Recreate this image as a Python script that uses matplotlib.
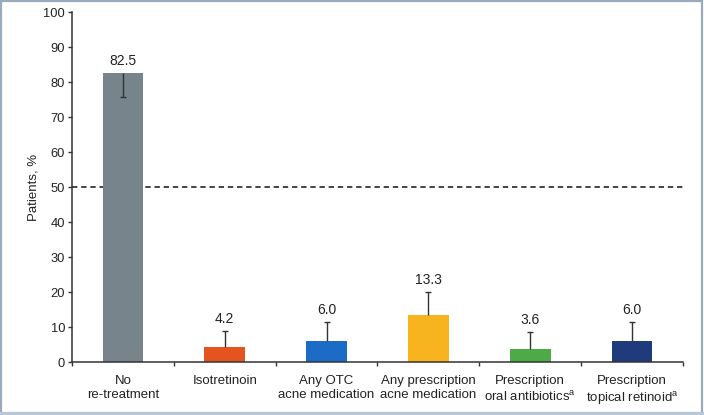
import matplotlib
matplotlib.use("Agg")
import matplotlib.pyplot as plt
from matplotlib.patches import Rectangle

plt.rcParams['font.family'] = ['Liberation Sans', 'DejaVu Sans']
plt.rcParams['mathtext.fontset'] = 'custom'
plt.rcParams['mathtext.rm'] = 'Liberation Sans'

categories = ["No\nre-treatment", "Isotretinoin", "Any OTC\nacne medication",
              "Any prescription\nacne medication",
              "Prescription\noral antibiotics$^\\mathrm{a}$",
              "Prescription\ntopical retinoid$^\\mathrm{a}$"]
values = [82.5, 4.2, 6.0, 13.3, 3.6, 6.0]
err_lower = [6.8, 0, 0, 0, 0, 0]
err_upper = [0, 4.7, 5.5, 6.8, 5.0, 5.5]
value_labels = ["82.5", "4.2", "6.0", "13.3", "3.6", "6.0"]
colors = ["#77848b", "#e5531f", "#1c6bc7", "#f8b41e", "#4cab47", "#1f3b7b"]
yticks = [0, 10, 20, 30, 40, 50, 60, 70, 80, 90, 100]
threshold = 50

fig = plt.figure(figsize=(7.04, 4.15), dpi=100)
ax = fig.add_axes([0.1023, 0.1277, 0.8677, 0.8433])

x = list(range(len(categories)))
ax.bar(x, values, width=0.4, color=colors, zorder=2)

# one-sided error bars (single cap at the far end)
lo = [v - e for v, e in zip(values, err_lower)]
hi = [v + e for v, e in zip(values, err_upper)]
ax.vlines(x, lo, hi, color='#333333', linewidth=1.0, zorder=3)
cap_y = [v - el if el > 0 else v + eu for v, el, eu in zip(values, err_lower, err_upper)]
ax.plot(x, cap_y, linestyle='none', marker='_', markersize=4.5,
        markeredgewidth=1.0, color='#333333', zorder=3)

for xi, v, up, lab in zip(x, values, err_upper, value_labels):
    ax.annotate(lab, (xi, v + up), xytext=(0, 3.5), textcoords='offset points',
                ha='center', va='bottom', fontsize=10, color='#222222')

ax.axhline(threshold, color='#111111', linestyle=(0, (3.5, 2.5)), linewidth=1.1, zorder=1)

ax.set_xlim(-0.5, len(categories) - 0.5)
ax.set_ylim(0, 100)
ax.set_yticks(yticks)
ax.set_yticklabels([str(t) for t in yticks], fontsize=9.3, color='#222222')
ax.set_xticks([i + 0.5 for i in range(-1, len(categories))], minor=False)
ax.set_xticklabels([])
ax.set_xticks(x, minor=True)
ax.set_xticklabels(categories, minor=True, fontsize=9.5, color='#222222', linespacing=1.3)
ax.tick_params(axis='x', which='minor', length=0, pad=9)
ax.tick_params(axis='x', which='major', length=3, width=1, color='#333333', direction='out')
ax.tick_params(axis='y', length=3, width=1, color='#333333', pad=2)
ax.set_ylabel("Patients, %", fontsize=9.5, color='#222222', labelpad=3)

for s in ['top', 'right']:
    ax.spines[s].set_visible(False)
for s in ['left', 'bottom']:
    ax.spines[s].set_color('#333333')
    ax.spines[s].set_linewidth(1.1)

fig.patches.append(Rectangle((0.001, 0.004), 0.996, 0.994, transform=fig.transFigure,
                             fill=False, edgecolor='#9aaabb', linewidth=1.6))
fig.patches.append(Rectangle((0, 0), 1, 0.008, transform=fig.transFigure,
                             facecolor='#b8c8d8', edgecolor='none'))

fig.savefig("out.png", dpi=100)
